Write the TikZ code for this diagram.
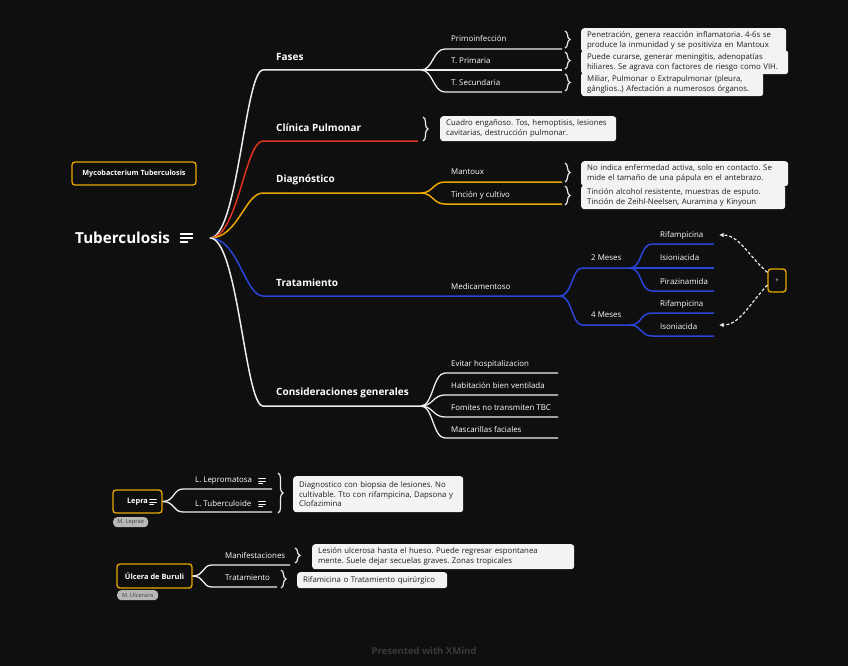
\documentclass[tikz,border=0pt]{standalone}
\usepackage{fontspec}
\setmainfont{Open Sans}
\usetikzlibrary{arrows.meta,decorations.pathreplacing}
\definecolor{canvas}{HTML}{0F0F0F}
\definecolor{linewhite}{HTML}{EDEDED}
\definecolor{brred}{HTML}{E2321F}
\definecolor{bryellow}{HTML}{E8A800}
\definecolor{brblue}{HTML}{2A45D8}
\definecolor{notefill}{HTML}{F3F3F3}
\definecolor{notetext}{HTML}{1E1E1E}
\definecolor{chipgray}{HTML}{B8B8B8}
\definecolor{footgray}{HTML}{3A3A3A}
\frenchspacing

\begin{document}
\begin{tikzpicture}[x=1pt,y=-1pt,
  branch/.style={line width=1.5pt},
  twig/.style={line width=1.3pt,draw=linewhite},
  mainlbl/.style={anchor=west,inner sep=0pt,text=white,font=\fontsize{10}{12}\selectfont\bfseries},
  leaflbl/.style={anchor=west,inner sep=0pt,text=white,font=\fontsize{7.9}{9}\selectfont},
  callout/.style={anchor=north west,fill=notefill,rounded corners=3pt,text=notetext,align=left,
    font=\fontsize{7.8}{9.8}\selectfont,inner xsep=6pt,inner ysep=0pt},
  bracket/.style={draw=linewhite,line width=1.2pt,decorate,decoration={brace,amplitude=5pt}},
  topicbox/.style={draw=bryellow,line width=1.3pt,rounded corners=3pt,fill=canvas,text=white,
    inner sep=0pt,font=\fontsize{7.4}{9}\selectfont\bfseries},
  chip/.style={anchor=north west,fill=chipgray,rounded corners=4pt,text=black!75,
    font=\fontsize{5.8}{6}\selectfont,inner xsep=3pt,inner ysep=0pt,minimum height=10pt},
  dasharrow/.style={draw=linewhite,line width=1.2pt,dash pattern=on 3pt off 2pt,
    -{Latex[length=4.5pt,width=4.5pt]}},
  noteglyph/.pic={\draw[white,line width=#1,line cap=round]
    (-6,-4) -- (6,-4) (-6,0) -- (6,0) (-6,4) -- (1,4);}
]
\useasboundingbox[fill=canvas] (0,0) rectangle (848,666);

% central topic
\node[anchor=west,inner sep=0pt,text=white,font=\fontsize{15.2}{18}\selectfont\bfseries]
  (tb) at (75,238) {Tuberculosis};
\pic at (186.5,238) {noteglyph=1.2pt};
\coordinate (root) at (210,238);
\node[topicbox,minimum width=124pt,minimum height=23pt,font=\fontsize{7.2}{8}\selectfont\bfseries]
  (myco) at (134,173.5) {Mycobacterium Tuberculosis};

% Fases
\coordinate (fasesL) at (263,70); \coordinate (fasesR) at (421,70);
\draw[branch,linewhite] (root) .. controls +(28,0) and +(-18,0) .. (fasesL) -- (fasesR);
\node[mainlbl] (fases) at (276,57) {Fases};
\coordinate (primA) at (445,49); \coordinate (primB) at (562,49);
\coordinate (tpriB) at (562,70);
\coordinate (tsecA) at (445,92); \coordinate (tsecB) at (562,92);
\draw[twig] (fasesR) .. controls +(12,0) and +(-12,0) .. (primA) -- (primB);
\draw[twig] (fasesR) -- (tpriB);
\draw[twig] (fasesR) .. controls +(12,0) and +(-12,0) .. (tsecA) -- (tsecB);
\node[leaflbl] (prim) at (451,39) {Primoinfección};
\node[leaflbl] (tpri) at (451,61) {T. Primaria};
\node[leaflbl] (tsec) at (451,83) {T. Secundaria};
\draw[bracket] (primB) ++(3,-18) -- ++(0,17);
\draw[bracket] (tpriB) ++(3,-18) -- ++(0,17);
\draw[bracket] (tsecB) ++(3,-18) -- ++(0,17);
\node[callout,text width=193pt,minimum height=24pt] (primnote) at (581,28)
  {Penetración, genera reacción inflamatoria. 4-6s se\\produce la inmunidad y se positiviza en Mantoux};
\node[callout,text width=195pt,minimum height=24pt] (tprinote) at (581,50)
  {Puede curarse, generar meningitis, adenopatías\\hiliares. Se agrava con factores de riesgo como VIH.};
\node[callout,text width=170pt,minimum height=24pt] (tsecnote) at (581,72)
  {Miliar, Pulmonar o Extrapulmonar (pleura,\\gánglios..) Afectación a numerosos órganos.};

% Clinica Pulmonar
\coordinate (clinL) at (263,141); \coordinate (clinR) at (418,141);
\draw[branch,brred] (root) .. controls +(28,0) and +(-18,0) .. (clinL) -- (clinR);
\node[mainlbl] (clin) at (276,128) {Clínica Pulmonar};
\draw[bracket] (clinR) ++(5,-24) -- ++(0,24);
\node[callout,text width=164pt,minimum height=25pt] (clinnote) at (440,116)
  {Cuadro engañoso. Tos, hemoptisis, lesiones\\cavitarias, destrucción pulmonar.};

% Diagnostico
\coordinate (diagL) at (263,193); \coordinate (diagR) at (421,193);
\draw[branch,bryellow] (root) .. controls +(28,0) and +(-18,0) .. (diagL) -- (diagR);
\node[mainlbl] (diag) at (276,180) {Diagnóstico};
\coordinate (mantA) at (445,182); \coordinate (mantB) at (562,182);
\coordinate (tincA) at (445,204); \coordinate (tincB) at (562,204);
\draw[branch,bryellow] (diagR) .. controls +(12,0) and +(-12,0) .. (mantA) -- (mantB);
\draw[branch,bryellow] (diagR) .. controls +(12,0) and +(-12,0) .. (tincA) -- (tincB);
\node[leaflbl] (mant) at (451,172) {Mantoux};
\node[leaflbl] (tinc) at (451,195) {Tinción y cultivo};
\draw[bracket] (mantB) ++(3,-19) -- ++(0,19);
\draw[bracket] (tincB) ++(3,-18) -- ++(0,19);
\node[callout,text width=195pt,minimum height=25pt] (mantnote) at (581,161)
  {No indica enfermedad activa, solo en contacto. Se\\mide el tamaño de una pápula en el antebrazo.};
\node[callout,text width=192pt,minimum height=24pt] (tincnote) at (581,185)
  {Tinción alcohol resistente, muestras de esputo.\\Tinción de Zeihl-Neelsen, Auramina y Kinyoun};

% Tratamiento
\coordinate (tratL) at (263,296); \coordinate (tratR) at (560,296);
\draw[branch,brblue] (root) .. controls +(28,0) and +(-18,0) .. (tratL) -- (tratR);
\node[mainlbl] (trat) at (276,283) {Tratamiento};
\node[leaflbl] (medi) at (451,287) {Medicamentoso};
\coordinate (m2A) at (582,268); \coordinate (m2B) at (630,268);
\coordinate (m4A) at (582,325); \coordinate (m4B) at (630,325);
\draw[branch,brblue] (tratR) .. controls +(12,0) and +(-10,0) .. (m2A) -- (m2B);
\draw[branch,brblue] (tratR) .. controls +(12,0) and +(-10,0) .. (m4A) -- (m4B);
\node[leaflbl] (mes2) at (591,258) {2 Meses};
\node[leaflbl] (mes4) at (591,315) {4 Meses};
\coordinate (rifaA) at (652,244); \coordinate (rifaB) at (714,244);
\coordinate (isioB) at (714,268);
\coordinate (piraA) at (652,291); \coordinate (piraB) at (714,291);
\coordinate (rifbA) at (652,313); \coordinate (rifbB) at (714,313);
\coordinate (isonA) at (652,336); \coordinate (isonB) at (714,336);
\draw[branch,brblue] (m2B) .. controls +(12,0) and +(-12,0) .. (rifaA) -- (rifaB);
\draw[branch,brblue] (m2B) -- (isioB);
\draw[branch,brblue] (m2B) .. controls +(12,0) and +(-12,0) .. (piraA) -- (piraB);
\draw[branch,brblue] (m4B) .. controls +(12,0) and +(-12,0) .. (rifbA) -- (rifbB);
\draw[branch,brblue] (m4B) .. controls +(12,0) and +(-12,0) .. (isonA) -- (isonB);
\node[leaflbl] (rifa) at (660,235) {Rifampicina};
\node[leaflbl] (isio) at (660,258) {Isioniacida};
\node[leaflbl] (pira) at (660,282) {Pirazinamida};
\node[leaflbl] (rifb) at (660,304) {Rifampicina};
\node[leaflbl] (ison) at (660,327) {Isoniacida};
\node[draw=bryellow,line width=1.3pt,rounded corners=3pt,minimum width=18pt,minimum height=23pt,
  inner sep=0pt,text=white,font=\fontsize{6}{7}\selectfont] (plus) at (777,280.5) {+};
\coordinate (rifaTip) at (719,235); \coordinate (isonTip) at (719,325);
\draw[dasharrow] (plus.140) .. controls +(-20,-18) and +(20,0) .. (rifaTip);
\draw[dasharrow] (plus.205) .. controls +(-20,22) and +(20,0) .. (isonTip);

% Consideraciones generales
\coordinate (consL) at (263,406); \coordinate (consR) at (421,406);
\draw[branch,linewhite] (root) .. controls +(28,0) and +(-18,0) .. (consL) -- (consR);
\node[mainlbl] (cons) at (276,393) {Consideraciones generales};
\coordinate (hospA) at (445,373); \coordinate (hospB) at (558,373);
\coordinate (habiA) at (445,395); \coordinate (habiB) at (558,395);
\coordinate (fomiA) at (445,417); \coordinate (fomiB) at (558,417);
\coordinate (mascA) at (445,438); \coordinate (mascB) at (558,438);
\draw[twig] (consR) .. controls +(12,0) and +(-12,0) .. (hospA) -- (hospB);
\draw[twig] (consR) .. controls +(12,0) and +(-12,0) .. (habiA) -- (habiB);
\draw[twig] (consR) .. controls +(12,0) and +(-12,0) .. (fomiA) -- (fomiB);
\draw[twig] (consR) .. controls +(12,0) and +(-12,0) .. (mascA) -- (mascB);
\node[leaflbl] (hosp) at (451,364) {Evitar hospitalizacion};
\node[leaflbl] (habi) at (451,386) {Habitación bien ventilada};
\node[leaflbl] (fomi) at (451,408) {Fomites no transmiten TBC};
\node[leaflbl] (masc) at (451,430) {Mascarillas faciales};

% Lepra
\node[topicbox,minimum width=49pt,minimum height=23pt] (lepra) at (137.5,501.5) {Lepra\hspace{17pt}};
\pic[scale=0.55] at (153,502) {noteglyph=0.9pt};
\node[chip,minimum width=35pt] (leprae) at (113,517) {M. Leprae};
\coordinate (lepmA) at (183,489); \coordinate (lepmB) at (272,489);
\coordinate (leptA) at (183,512); \coordinate (leptB) at (272,512);
\draw[twig] (lepra.east) .. controls +(12,0) and +(-10,0) .. (lepmA) -- (lepmB);
\draw[twig] (lepra.east) .. controls +(12,0) and +(-10,0) .. (leptA) -- (leptB);
\node[leaflbl] (lepm) at (195,481) {L. Lepromatosa};
\node[leaflbl] (lept) at (195,504) {L. Tuberculoide};
\pic[scale=0.55] at (262,481) {noteglyph=0.9pt};
\pic[scale=0.55] at (262,504) {noteglyph=0.9pt};
\draw[bracket] (lepmB) ++(6,-16) -- ++(0,40);
\node[callout,text width=158pt,minimum height=36pt] (lepnote) at (293,476)
  {Diagnostico con biopsia de lesiones. No\\cultivable. Tto con rifampicina, Dapsona y\\Clofazimina};

% Ulcera de Buruli
\node[topicbox,minimum width=75pt,minimum height=24pt] (buru) at (154.5,576) {Úlcera de Buruli};
\node[chip,minimum width=41pt] (ulce) at (117,590) {M. Ulcerans};
\coordinate (maniA) at (212,565); \coordinate (maniB) at (290,565);
\coordinate (bttoA) at (212,587); \coordinate (bttoB) at (277,587);
\draw[twig] (buru.east) .. controls +(12,0) and +(-10,0) .. (maniA) -- (maniB);
\draw[twig] (buru.east) .. controls +(12,0) and +(-10,0) .. (bttoA) -- (bttoB);
\node[leaflbl] (mani) at (225,556) {Manifestaciones};
\node[leaflbl] (btto) at (225,578) {Tratamiento};
\draw[bracket] (maniB) ++(5,-17) -- ++(0,15);
\draw[bracket] (bttoB) ++(4,-17) -- ++(0,18);
\node[callout,text width=250pt,minimum height=25pt] (maninote) at (312,544)
  {Lesión ulcerosa hasta el hueso. Puede regresar espontanea\\mente. Suele dejar secuelas graves. Zonas tropicales};
\node[callout,text width=138pt,minimum height=16pt] (bttonote) at (297,572)
  {Rifamicina o Tratamiento quirúrgico};

\node[text=footgray,font=\fontsize{9.5}{10}\selectfont\bfseries] (credit) at (424,651) {Presented with XMind};
\end{tikzpicture}
\end{document}
